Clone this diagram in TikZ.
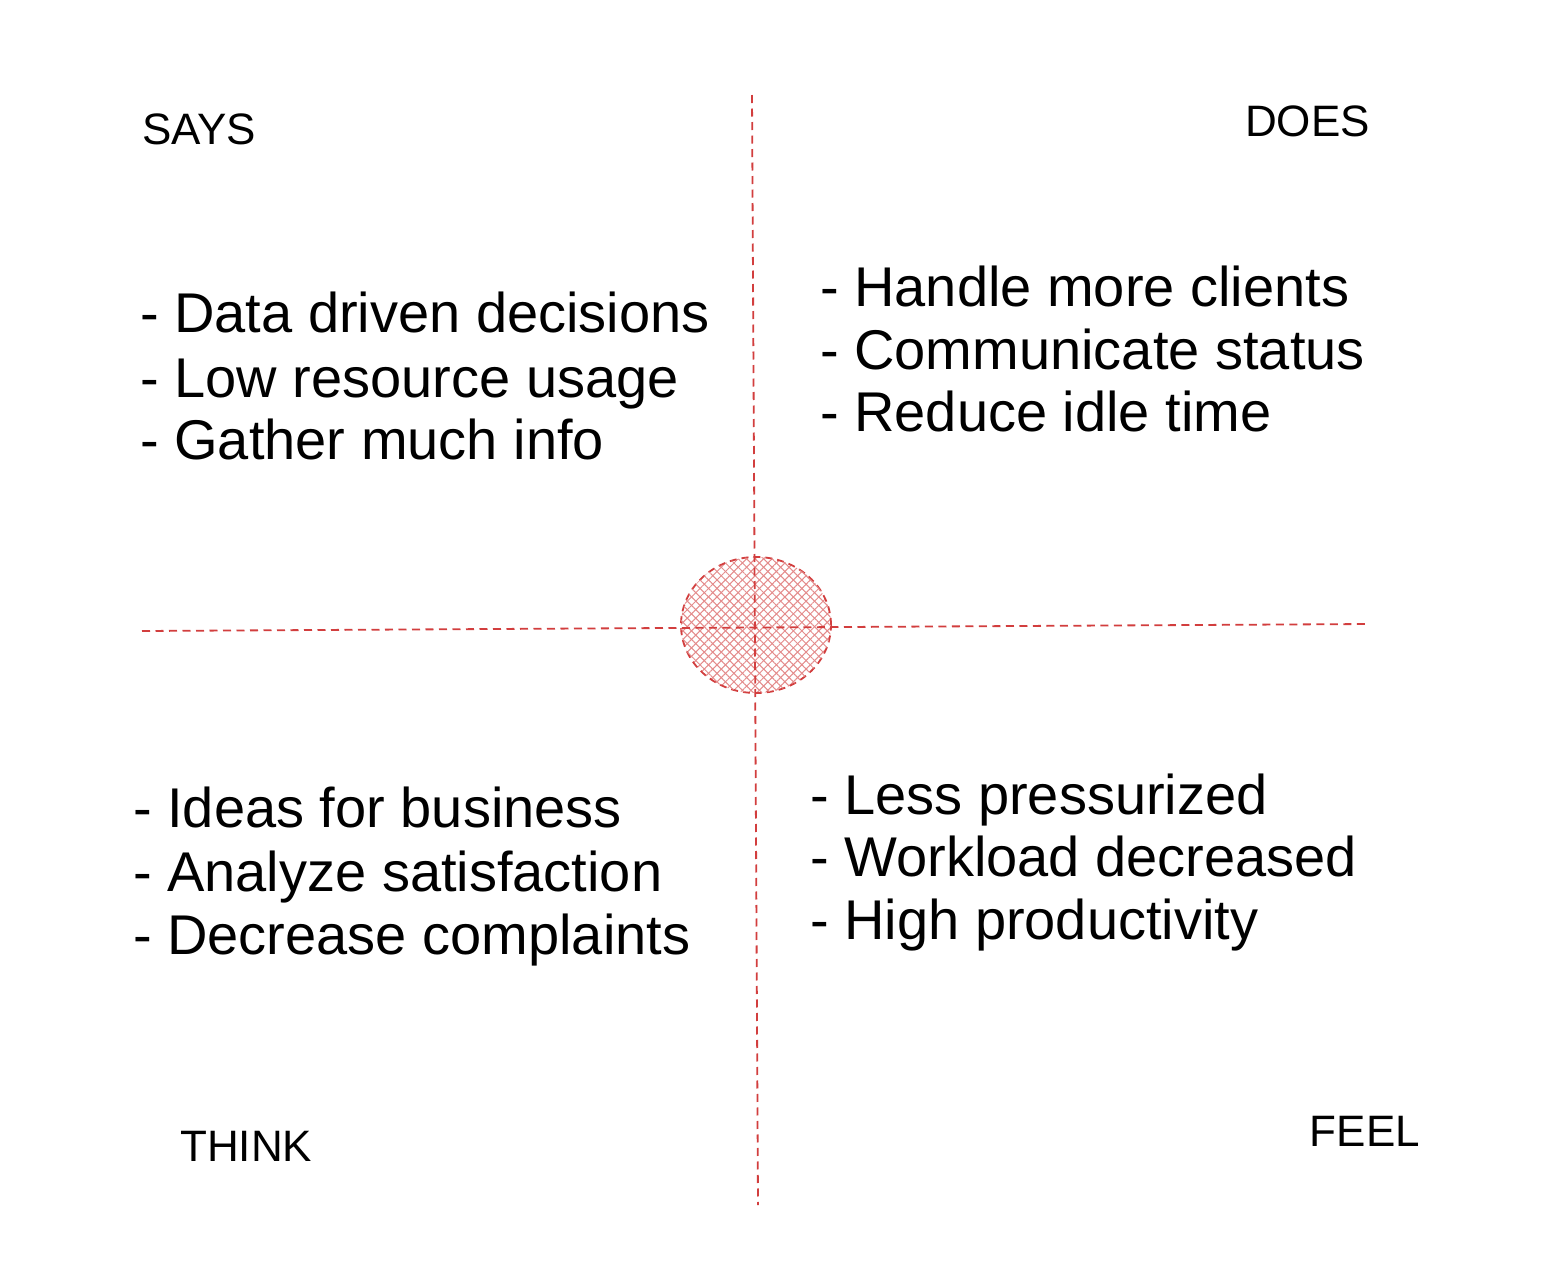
\documentclass[tikz,border=0pt]{standalone}
\usepackage{fontspec}
\setmainfont{Liberation Sans}
\usetikzlibrary{patterns.meta,shapes.geometric}
\definecolor{redline}{RGB}{210,62,62}
\begin{document}
\begin{tikzpicture}[x=1pt,y=-1pt,
  item/.style={font=\fontsize{56}{63}\selectfont, anchor=base west, inner sep=0pt},
  head/.style={font=\fontsize{44}{50}\selectfont, inner sep=0pt},
  axis/.style={draw=redline, line width=1.8pt, dash pattern=on 8pt off 5.5pt}]
\useasboundingbox[fill=white] (0,0) rectangle (1548,1280);
% central ellipse
\node[ellipse, draw=redline, line width=1.8pt, dash pattern=on 7pt off 5pt,
      minimum width=150pt, minimum height=136pt, inner sep=0pt,
      pattern={Lines[angle=45,distance=6pt,line width=1pt]}, pattern color=redline!60,
      postaction={pattern={Lines[angle=-45,distance=6pt,line width=1pt]}, pattern color=redline!60}] (hub) at (756,625) {};
% axes
\coordinate (vt) at (752,95);
\coordinate (vb) at (758,1205);
\coordinate (hl) at (142,631);
\coordinate (hr) at (1370,624);
\draw[axis] (vt) -- (vb);
\draw[axis] (hl) -- (hr);
% headers
\node[head, anchor=base west] (says) at (142,144) {SAYS};
\node[head, anchor=base east] (does) at (1370,136) {DOES};
\node[head, anchor=base west] (think) at (180,1161) {THINK};
\node[head, anchor=base east] (feel) at (1420,1146) {FEEL};
% says
\node[item] (s1) at (140,332) {- Data driven decisions};
\node[item] (s2) at (140,397) {- Low resource usage};
\node[item] (s3) at (140,459) {- Gather much info};
% does
\node[item] (d1) at (820,306) {- Handle more clients};
\node[item] (d2) at (820,369) {- Communicate status};
\node[item] (d3) at (820,431) {- Reduce idle time};
% think
\node[item] (t1) at (133,827) {- Ideas for business};
\node[item] (t2) at (133,891) {- Analyze satisfaction};
\node[item] (t3) at (133,954) {- Decrease complaints};
% feel
\node[item] (f1) at (810,814) {- Less pressurized};
\node[item] (f2) at (810,876) {- Workload decreased};
\node[item] (f3) at (810,939) {- High productivity};
\end{tikzpicture}
\end{document}
